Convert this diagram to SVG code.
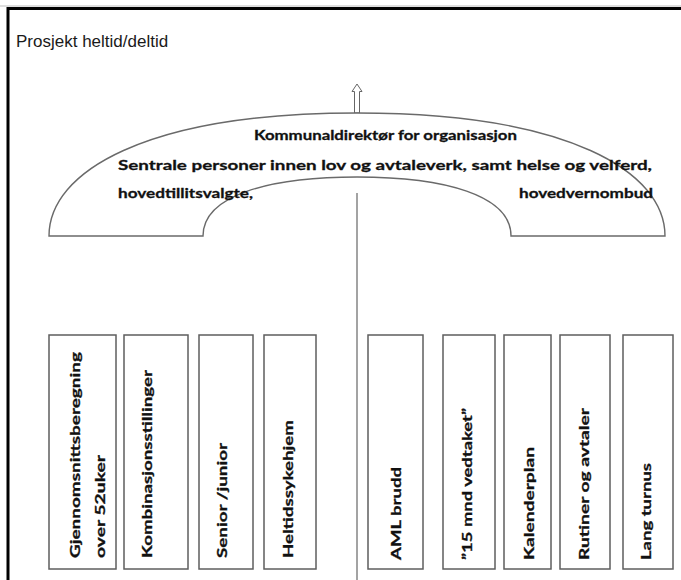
<svg xmlns="http://www.w3.org/2000/svg" width="681" height="580" viewBox="0 0 681 580">
  <style>
    .frame { fill: none; stroke: #000; stroke-width: 3; }
    .title { font-family: "Liberation Sans", Arial, sans-serif; font-size: 17px; fill: #1a1a1a; }
    .cal { font-family: Lato, "Open Sans", "DejaVu Sans", sans-serif; font-weight: bold; font-size: 14px; fill: #111; stroke: #111; stroke-width: 0.3; }
    .box { fill: #fff; stroke: #5e5e5e; stroke-width: 1.5; }
    .arch { fill: #fff; stroke: #6a6a6a; stroke-width: 1.4; }
    .divider { stroke: #a3a3a3; stroke-width: 2; fill: none; }
    .arrow { fill: #fff; stroke: #666; stroke-width: 1; }
  </style>
  <rect width="681" height="580" fill="#fff"/>
  <g id="frame">
    <line x1="0" y1="6" x2="681" y2="6" stroke="#bdbdbd" stroke-width="1"/>
    <path class="frame" d="M8,580 L8,8.5 L681,8.5"/>
  </g>
  <g id="title">
    <text class="title" x="16" y="47">Prosjekt heltid/deltid</text>
  </g>

  <g id="connectors">
    <line class="divider" x1="357" y1="193" x2="357" y2="580"/>
    <polygon class="arrow" points="357,84 362,91.5 359.5,91.5 359.5,113 354.5,113 354.5,91.5 352,91.5"/>
  </g>

  <g id="arch">
    <path class="arch" d="M49,236 C49,172 145,113 357,113 C569,113 665,172 665,236 L511,236 C511,195 444,177 357,177 C270,177 203,195 203,236 Z"/>
    <text class="cal" x="254" y="140" textLength="263" lengthAdjust="spacingAndGlyphs">Kommunaldirektør for organisasjon</text>
    <text class="cal" x="118" y="170" textLength="534" lengthAdjust="spacingAndGlyphs">Sentrale personer innen lov og avtaleverk, samt helse og velferd,</text>
    <text class="cal" x="118" y="198" textLength="135" lengthAdjust="spacingAndGlyphs">hovedtillitsvalgte,</text>
    <text class="cal" x="519" y="198" textLength="134" lengthAdjust="spacingAndGlyphs">hovedvernombud</text>
  </g>

  <g id="box-gjennomsnitt">
    <rect class="box" x="49" y="335" width="67" height="234"/>
    <text class="cal" transform="translate(80,558) rotate(-90)" textLength="206" lengthAdjust="spacingAndGlyphs">Gjennomsnittsberegning</text>
    <text class="cal" transform="translate(105,558) rotate(-90)" textLength="103" lengthAdjust="spacingAndGlyphs">over 52uker</text>
  </g>
  <g id="box-kombinasjon">
    <rect class="box" x="124" y="335" width="64" height="234"/>
    <text class="cal" transform="translate(152,558) rotate(-90)" textLength="188" lengthAdjust="spacingAndGlyphs">Kombinasjonsstillinger</text>
  </g>
  <g id="box-senior">
    <rect class="box" x="199" y="335" width="54" height="234"/>
    <text class="cal" transform="translate(227,558) rotate(-90)" textLength="115" lengthAdjust="spacingAndGlyphs">Senior /junior</text>
  </g>
  <g id="box-heltidssykehjem">
    <rect class="box" x="264" y="335" width="52" height="234"/>
    <text class="cal" transform="translate(293,558) rotate(-90)" textLength="138" lengthAdjust="spacingAndGlyphs">Heltidssykehjem</text>
  </g>
  <g id="box-aml">
    <rect class="box" x="368" y="335" width="55" height="234"/>
    <text class="cal" transform="translate(401,560) rotate(-90)" textLength="93" lengthAdjust="spacingAndGlyphs">AML brudd</text>
  </g>
  <g id="box-15mnd">
    <rect class="box" x="443" y="335" width="52" height="234"/>
    <text class="cal" transform="translate(472,560) rotate(-90)" textLength="152" lengthAdjust="spacingAndGlyphs">”15 mnd vedtaket”</text>
  </g>
  <g id="box-kalenderplan">
    <rect class="box" x="504" y="335" width="47" height="234"/>
    <text class="cal" transform="translate(534,560) rotate(-90)" textLength="113" lengthAdjust="spacingAndGlyphs">Kalenderplan</text>
  </g>
  <g id="box-rutiner">
    <rect class="box" x="560" y="335" width="50" height="234"/>
    <text class="cal" transform="translate(589,560) rotate(-90)" textLength="152" lengthAdjust="spacingAndGlyphs">Rutiner og avtaler</text>
  </g>
  <g id="box-langturnus">
    <rect class="box" x="623" y="335" width="50" height="234"/>
    <text class="cal" transform="translate(651,560) rotate(-90)" textLength="97" lengthAdjust="spacingAndGlyphs">Lang turnus</text>
  </g>
</svg>
